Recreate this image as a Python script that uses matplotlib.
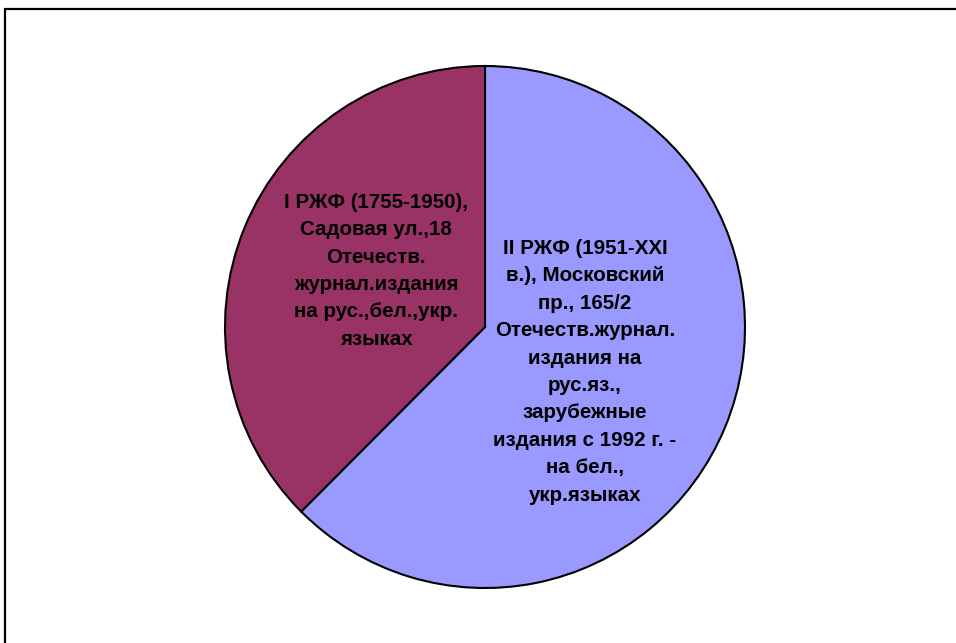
import matplotlib.pyplot as plt
from matplotlib.patches import Rectangle

plt.rcParams['font.family'] = ['Liberation Sans', 'DejaVu Sans']

# slice data (clockwise from 12 o'clock)
labels = [
    "II РЖФ (1951-XXI\nв.), Московский\nпр., 165/2\nОтечеств.журнал.\nиздания на\nрус.яз.,\nзарубежные\nиздания с 1992 г. -\nна бел.,\nукр.языках",
    "I РЖФ (1755-1950),\nСадовая ул.,18\nОтечеств.\nжурнал.издания\nна рус.,бел.,укр.\nязыках",
]
shares = [62.5, 37.5]
colors = ['#9999FF', '#993366']
label_pos = [(0.385, -0.172), (-0.419, 0.215)]

fig = plt.figure(figsize=(9.56, 6.43), dpi=100)

# chart frame like the spreadsheet chart border
fig.patches.append(Rectangle((4.5 / 956, -0.1), 1.2, 1 - 8.5 / 643 + 0.1,
                             transform=fig.transFigure, fill=False,
                             edgecolor='black', linewidth=1.6))

ax = fig.add_axes([225 / 956, 1 - 588 / 643, 520 / 956, 522 / 643])
wedges, _ = ax.pie(shares, colors=colors, startangle=90, counterclock=False,
                   wedgeprops=dict(edgecolor='black', linewidth=1.5))
ax.set_aspect('auto')
ax.set_xlim(-1, 1)
ax.set_ylim(-1, 1)

for txt, (x, y) in zip(labels, label_pos):
    ax.text(x, y, txt, ha='center', va='center',
            fontsize=14.8, fontweight='bold', linespacing=1.56, color='black')

fig.savefig('out.png', dpi=100)
